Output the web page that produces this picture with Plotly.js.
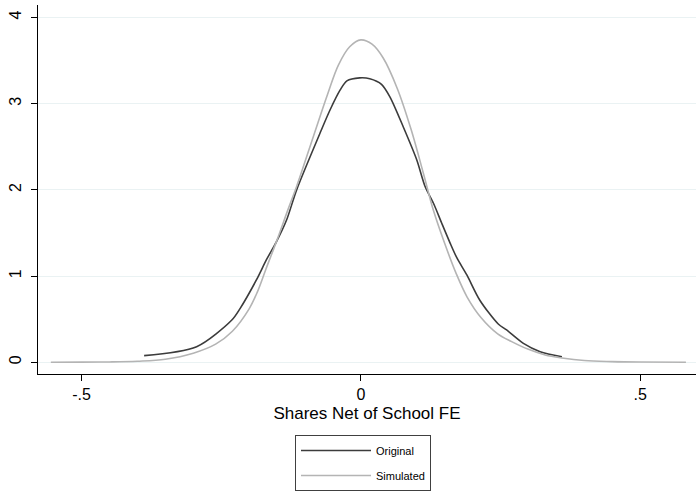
<!DOCTYPE html>
<html>
<head>
<meta charset="utf-8">
<script src="https://cdn.plot.ly/plotly-3.0.1.min.js"></script>
<style>html,body{margin:0;padding:0;background:#fff;}#chart{width:696px;height:492px;}</style>
</head>
<body>
<div id="chart"></div>
<script>
// Original density
const origX = [-0.388,-0.294,-0.231,-0.216,-0.187,-0.169,-0.151,-0.133,-0.115,-0.073,-0.055,-0.037,-0.025,-0.002,0.016,0.037,0.052,0.076,0.100,0.115,0.130,0.145,0.160,0.172,0.190,0.213,0.246,0.261,0.291,0.321,0.360];
const origY = [0.077,0.181,0.49,0.626,0.955,1.19,1.40,1.65,2.0,2.66,2.93,3.16,3.265,3.30,3.29,3.225,3.08,2.73,2.35,2.04,1.845,1.61,1.38,1.21,1.01,0.72,0.444,0.375,0.22,0.123,0.065];
// Simulated density
const simX = [-0.555,-0.50,-0.45,-0.40,-0.35,-0.30,-0.26,-0.23,-0.20,-0.185,-0.17,-0.15,-0.13,-0.115,-0.085,-0.06,-0.04,-0.02,0,0.02,0.04,0.065,0.09,0.112,0.13,0.15,0.17,0.19,0.215,0.245,0.27,0.30,0.33,0.36,0.40,0.45,0.50,0.582];
const simY = [0.001,0.002,0.004,0.012,0.035,0.105,0.21,0.36,0.62,0.82,1.08,1.42,1.78,2.04,2.62,3.10,3.45,3.66,3.74,3.69,3.53,3.18,2.70,2.19,1.76,1.38,1.04,0.76,0.52,0.33,0.24,0.15,0.085,0.05,0.02,0.008,0.003,0.001];
const xTickVals = [-0.5, 0, 0.5];
const xTickText = ["-.5", "0", ".5"];
const yTickVals = [0, 1, 2, 3, 4];
const yTickText = ["0", "1", "2", "3", "4"];
const seriesNames = ["Original", "Simulated"];

const traces = [
  {x: origX, y: origY, mode: 'lines', name: seriesNames[0], line: {color: '#3c3c3c', width: 1.6, shape: 'spline', smoothing: 0.8}, legendgroup: 'a'},
  {x: simX, y: simY, mode: 'lines', name: seriesNames[1], line: {color: '#b4b4b4', width: 1.6, shape: 'spline', smoothing: 1}, legendgroup: 'b'}
];
const layout = {
  width: 696, height: 492,
  margin: {l: 38, r: 0, t: 5, b: 118},
  paper_bgcolor: '#fff', plot_bgcolor: '#fff',
  font: {family: 'Liberation Sans, Arial, sans-serif', color: '#000'},
  xaxis: {
    range: [-0.578, 0.6], tickvals: xTickVals, ticktext: xTickText,
    ticks: 'outside', ticklen: 6, tickcolor: '#000', tickwidth: 1,
    showline: true, linecolor: '#000', linewidth: 1, showgrid: false, zeroline: false,
    tickfont: {size: 16},
    title: {text: 'Shares Net of School FE', font: {size: 17}, standoff: 4}
  },
  yaxis: {
    range: [-0.136, 4.145], tickvals: yTickVals, ticktext: yTickText, tickangle: -90,
    ticks: 'outside', ticklen: 6, tickcolor: '#000', tickwidth: 1,
    showline: true, linecolor: '#000', linewidth: 1,
    showgrid: true, gridcolor: '#eaf2f3', gridwidth: 1, zeroline: false,
    tickfont: {size: 16}, ticklabelstandoff: 4
  },
  showlegend: true,
  legend: {
    x: (295-38)/658, xanchor: 'left', xref: 'paper',
    y: (374-435)/369, yanchor: 'top', yref: 'paper',
    bordercolor: '#404040', borderwidth: 1, bgcolor: '#fff',
    font: {size: 11}, itemwidth: 70, tracegroupgap: 6, traceorder: 'grouped',
    entrywidth: 50
  }
};
Plotly.newPlot('chart', traces, layout, {displayModeBar: false, staticPlot: true});
</script>
</body>
</html>
